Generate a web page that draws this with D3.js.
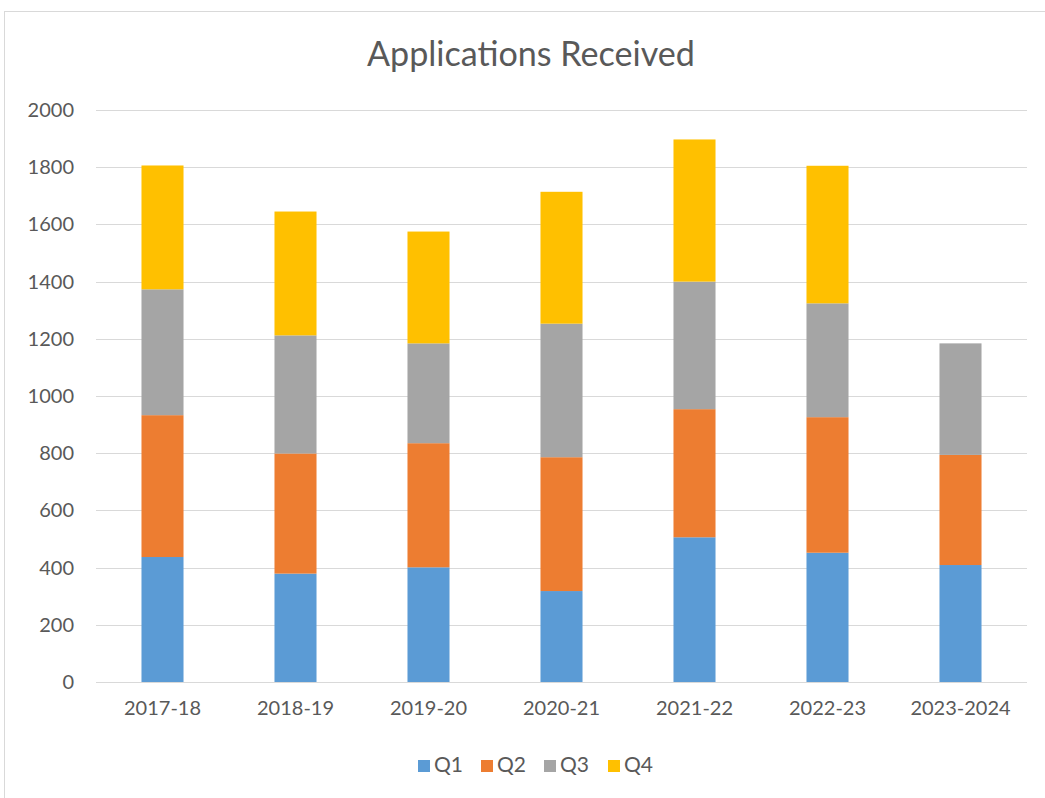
<!DOCTYPE html>
<html>
<head>
<meta charset="utf-8">
<script src="https://cdn.jsdelivr.net/npm/d3@7"></script>
<style>
	body { margin: 0; background: #fff; }
	text { font-family: Lato, "Open Sans", sans-serif; fill: #595959; }
</style>
</head>
<body>
<div id="chart"></div>
<script>
// data
let years = ["2017-18", "2018-19", "2019-20", "2020-21", "2021-22", "2022-23", "2023-2024"];
let quarters = ["Q1", "Q2", "Q3", "Q4"];
let q1 = [437, 379, 401, 318, 506, 452, 409];
let q2 = [496, 420, 434, 468, 448, 474, 385];
let q3 = [440, 413, 349, 467, 446, 398, 390];
let q4 = [433, 433, 391, 461, 497, 481, 0];
let y_ticks = [0, 200, 400, 600, 800, 1000, 1200, 1400, 1600, 1800, 2000];
let colors = ["#5b9bd5", "#ed7d31", "#a5a5a5", "#ffc000"];

function chart() {
	let width = 1045, height = 798;
	let margin = {top: 110, right: 18, bottom: 116, left: 96};

	let svg = d3.select("#chart")
		.append("svg")
		.attr("width", width)
		.attr("height", height);

	// chart border
	svg.append("rect")
		.attr("x", 4.5).attr("y", 11.5)
		.attr("width", width).attr("height", height)
		.attr("fill", "none")
		.attr("stroke", "#d9d9d9");

	let rows = years.map(function (y, i) {
		return {year: y, Q1: q1[i], Q2: q2[i], Q3: q3[i], Q4: q4[i]};
	});

	let x = d3.scaleBand()
		.domain(years)
		.range([margin.left, width - margin.right])
		.paddingInner(0.684)
		.paddingOuter(0.342);

	let y = d3.scaleLinear()
		.domain([0, 2000])
		.range([height - margin.bottom, margin.top]);

	// gridlines
	svg.append("g")
		.selectAll("line")
		.data(y_ticks)
		.enter()
		.append("line")
		.attr("x1", margin.left)
		.attr("x2", width - margin.right)
		.attr("y1", function (d) { return Math.round(y(d)) + 0.5; })
		.attr("y2", function (d) { return Math.round(y(d)) + 0.5; })
		.attr("stroke", "#d9d9d9")
		.attr("stroke-width", 1);

	// y axis labels
	let yAxis = svg.append("g")
		.attr("transform", "translate(" + (margin.left - 22) + ",0)")
		.call(d3.axisLeft(y).tickValues(y_ticks).tickSize(0).tickPadding(0).tickFormat(d3.format("d")));
	yAxis.select(".domain").remove();
	yAxis.selectAll("text")
		.attr("font-size", 20)
		.style("font-family", "Lato, sans-serif")
		.attr("fill", "#595959");

	let stack = d3.stack().keys(quarters);
	let series = stack(rows);

	svg.append("g")
		.selectAll("g")
		.data(series)
		.enter()
		.append("g")
		.attr("fill", function (d, i) { return colors[i]; })
		.selectAll("rect")
		.data(function (d) { return d; })
		.enter()
		.append("rect")
		.attr("x", function (d) { return x(d.data.year); })
		.attr("width", x.bandwidth())
		.attr("y", function (d) { return y(d[1]); })
		.attr("height", function (d) { return y(d[0]) - y(d[1]); });

	// x axis labels
	let xAxis = svg.append("g")
		.attr("transform", "translate(0," + (height - margin.bottom + 19) + ")")
		.call(d3.axisBottom(x).tickSize(0).tickPadding(0));
	xAxis.select(".domain").remove();
	xAxis.selectAll("text")
		.attr("font-size", 20)
		.style("font-family", "Lato, sans-serif")
		.attr("fill", "#595959");

	// title
	let title = svg.append("text")
		.attr("x", 531)
		.attr("y", 66)
		.attr("text-anchor", "middle")
		.attr("font-size", 30)
		.text("Applications Received");
	let tw = title.node().getComputedTextLength();
	title.attr("font-size", 30 * 328 / tw);

	// legend
	let legend_x = [418, 481, 544, 608];
	let legend = svg.append("g")
		.selectAll("g")
		.data(quarters)
		.enter()
		.append("g")
		.attr("transform", function (d, i) { return "translate(" + legend_x[i] + ",760)"; });
	legend.append("rect")
		.attr("width", 12).attr("height", 12)
		.attr("fill", function (d, i) { return colors[i]; });
	legend.append("text")
		.attr("x", 16)
		.attr("y", 12)
		.attr("font-size", 21)
		.text(function (d) { return d; });
}

chart();
</script>
</body>
</html>
